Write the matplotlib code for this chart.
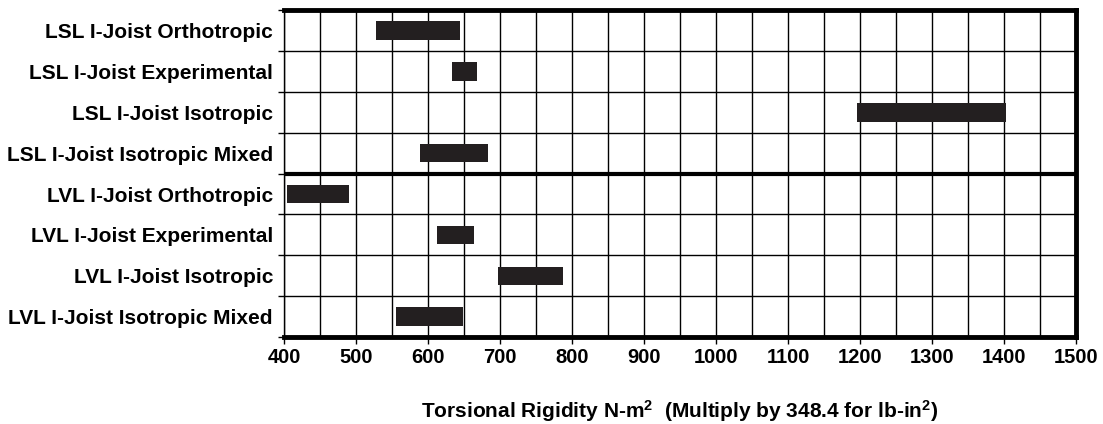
import matplotlib.pyplot as plt
from matplotlib.ticker import MultipleLocator

# --- Data ---
categories = [
    "LSL I-Joist Orthotropic",
    "LSL I-Joist Experimental",
    "LSL I-Joist Isotropic",
    "LSL I-Joist Isotropic Mixed",
    "LVL I-Joist Orthotropic",
    "LVL I-Joist Experimental",
    "LVL I-Joist Isotropic",
    "LVL I-Joist Isotropic Mixed",
]
range_low = [528, 634, 1196, 589, 404, 612, 697, 555]
range_high = [645, 668, 1403, 684, 490, 664, 788, 648]

x_ticks = list(range(400, 1501, 100))

plt.rcParams['font.family'] = ['Liberation Sans', 'DejaVu Sans']
plt.rcParams['font.weight'] = 'bold'
plt.rcParams['mathtext.fontset'] = 'custom'
plt.rcParams['mathtext.rm'] = 'Liberation Sans:bold'
plt.rcParams['mathtext.default'] = 'rm'

fig = plt.figure(figsize=(11.03, 4.24), dpi=100)
ax = fig.add_axes([0.2575, 0.205, 0.718, 0.771])

n = len(categories)
ypos = list(range(n))
widths = [h - l for l, h in zip(range_low, range_high)]
ax.barh(ypos, widths, left=range_low, height=0.45, color='#231f20', zorder=3)

ax.set_xlim(400, 1500)
ax.set_ylim(n - 0.5, -0.5)

# grid every 50 units vertically, row separators horizontally
ax.xaxis.set_minor_locator(MultipleLocator(50))
ax.set_xticks(x_ticks)
ax.set_xticklabels([str(t) for t in x_ticks], fontsize=14.5, fontweight='bold')
ax.grid(which='both', axis='x', color='black', linewidth=1.0, zorder=1)
for b in range(1, n):
    lw = 3.0 if b == 4 else 1.0
    ax.axhline(b - 0.5, color='black', linewidth=lw, zorder=2)

ax.set_yticks([b - 0.5 for b in range(n + 1)], minor=False)
ax.set_yticklabels([])
ax.set_yticks(ypos, minor=True)
ax.set_yticklabels(categories, minor=True, fontsize=15, fontweight='bold')
ax.tick_params(axis='y', which='minor', length=0, pad=8)
ax.tick_params(axis='y', which='major', length=4, width=1)
ax.tick_params(axis='x', which='major', length=5, width=1, pad=3)
ax.tick_params(axis='x', which='minor', length=0)

ax.spines['top'].set_linewidth(3.5)
ax.spines['bottom'].set_linewidth(3.5)
ax.spines['right'].set_linewidth(3.5)
ax.spines['left'].set_linewidth(1.0)

ax.set_xlabel(r'Torsional Rigidity N-m$^2$  (Multiply by 348.4 for lb-in$^2$)',
              fontsize=15, fontweight='bold', labelpad=22)

plt.savefig('out.png', dpi=100)
plt.close()
